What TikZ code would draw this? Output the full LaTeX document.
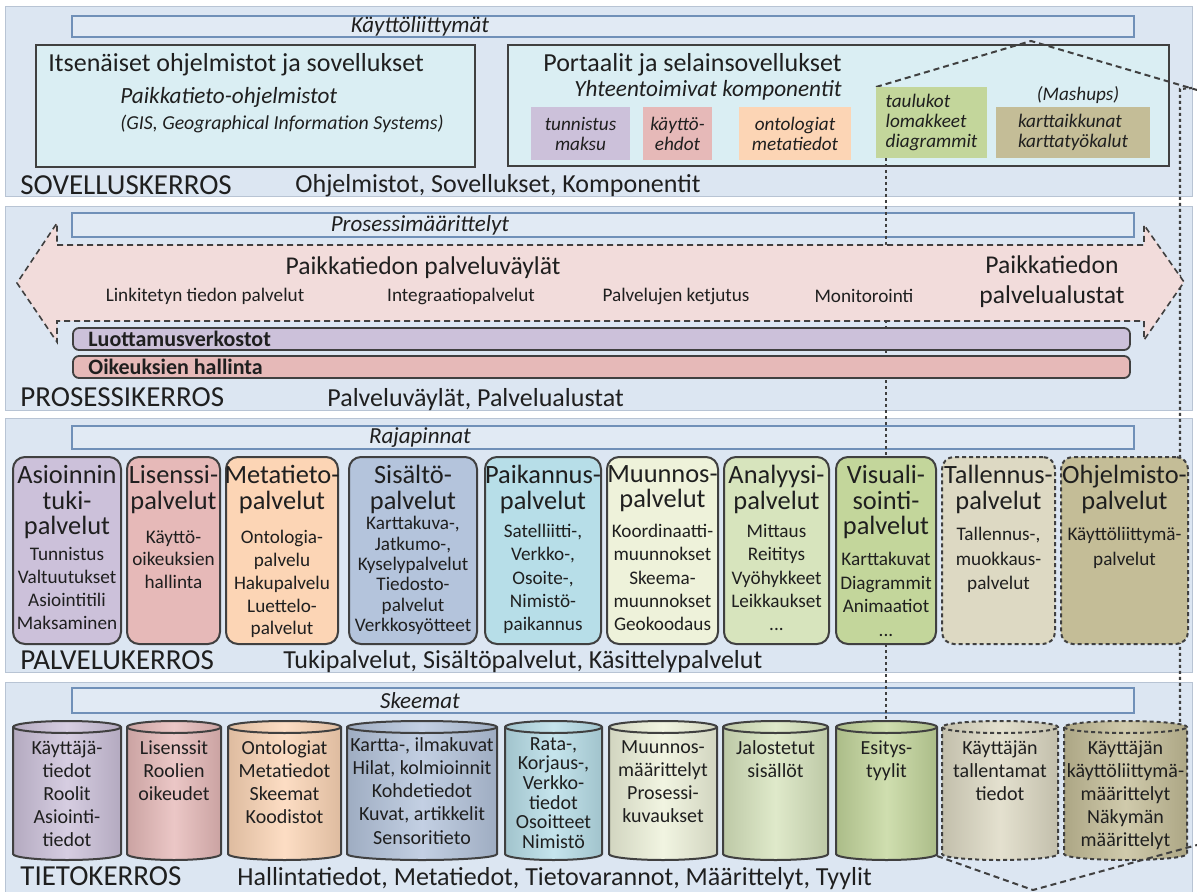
\documentclass[tikz,border=0pt]{standalone}
\usepackage{fontspec}
\setmainfont{Carlito}
\usetikzlibrary{positioning}

\definecolor{panelfill}{HTML}{DCE6F2}
\definecolor{panelline}{HTML}{B8C4D4}
\definecolor{barfill}{HTML}{E1EAF4}
\definecolor{barline}{HTML}{7090B8}
\definecolor{appfill}{HTML}{DAEEF3}
\definecolor{edge}{HTML}{404040}
\definecolor{ink}{HTML}{1F1F1F}
\definecolor{arrowfill}{HTML}{F2DCDB}
\definecolor{cPurple}{HTML}{CCC1DA}
\definecolor{cPink}{HTML}{E6B9B8}
\definecolor{cOrange}{HTML}{FCD5B5}
\definecolor{cSteel}{HTML}{B4C4DC}
\definecolor{cCyan}{HTML}{B7DEE8}
\definecolor{cCream}{HTML}{EEF2DA}
\definecolor{cLime}{HTML}{D7E4BD}
\definecolor{cGreen}{HTML}{C3D69B}
\definecolor{cBeige}{HTML}{DDD9C3}
\definecolor{cTan}{HTML}{C4BD97}

\tikzset{
    layerpanel/.style={draw=panelline, fill=panelfill, line width=0.5pt},
    topbar/.style={draw=barline, fill=barfill, line width=0.6pt},
    barlabel/.style={font=\fontsize{11.5}{12}\selectfont\itshape, text=ink, inner sep=0pt},
    layername/.style={anchor=west, font=\fontsize{14.5}{15}\selectfont, text=ink, inner sep=0pt},
    layerlist/.style={anchor=west, font=\fontsize{13}{14}\selectfont, text=ink, inner sep=0pt},
    % reunat: yhtenainen tai katkoviiva
    edgesolid/.style={solid},
    edgedash/.style={dash pattern=on 2pt off 1.5pt},
}

\begin{document}
\begin{tikzpicture}[x=0.5pt, y=-0.5pt,
    appbox/.style={draw=edge, fill=appfill, line width=0.9pt, inner sep=0pt},
    apptitle/.style={font=\fontsize{13}{14}\selectfont, text=ink, inner sep=0pt},
    appsub/.style={font=\fontsize{11.6}{12}\selectfont\itshape, text=ink, inner sep=0pt},
    appnote/.style={font=\fontsize{9.9}{10}\selectfont\itshape, text=ink, inner sep=0pt},
    compbox/.style={inner sep=0pt, align=center, font=\fontsize{9.6}{10}\selectfont\itshape, text=ink},
    busarrow/.style={draw=edge, fill=arrowfill, line width=0.8pt, dash pattern=on 3pt off 2pt},
    bustitle/.style={font=\fontsize{12.8}{15}\selectfont, text=ink, inner sep=0pt},
    busitem/.style={font=\fontsize{9.6}{10}\selectfont, text=ink, inner sep=0pt},
    rightsbar/.style={draw=edge, rounded corners=3pt, line width=0.9pt, inner sep=0pt},
    rightsname/.style={anchor=west, font=\fontsize{11}{12}\selectfont\bfseries, text=ink, inner sep=0pt},
    svcbox/.style={draw=edge, rounded corners=6pt, line width=1pt, inner sep=0pt},
    svctitle/.style={anchor=north, align=center, font=\fontsize{13.2}{12.75}\selectfont, text=ink, inner sep=0pt},
    svcitems/.style={anchor=north, align=center, text=ink, inner sep=0pt},
    cyl/.style={draw=edge, line width=1pt},
    cyltext/.style={anchor=north, align=center, text=ink, inner sep=0pt},
    hull/.style={draw=edge, line width=1pt, dash pattern=on 3pt off 2pt},
    hullv/.style={draw=edge, line width=1.1pt, dash pattern=on 1.5pt off 1.5pt},
  ]
  \useasboundingbox (0,0) rectangle (1197,892);

  % kerrosten taustat
  \path[layerpanel] (5,7) rectangle (1192,197);
  \path[layerpanel] (5,207) rectangle (1192,410);
  \path[layerpanel] (5,418) rectangle (1192,672);
  \path[layerpanel] (5,682) rectangle (1192,897);

  % kerrosten ylapalkit
  \foreach \ya/\yb/\lbl/\nm in {16/37/Käyttöliittymät/ui, 213/237/Prosessimäärittelyt/proc,
      426/449/Rajapinnat/api, 688/713/Skeemat/schema}{
    \draw[topbar] (72,\ya) rectangle (1134,\yb);
    \node[barlabel] (\nm) at (420,{(\ya+\yb)/2}) {\lbl};
  }

  % SOVELLUSKERROS
  \node[appbox, minimum width=219.5pt, minimum height=61pt] (standalone) at (255.5,106) {};
  \node[appbox, minimum width=330.5pt, minimum height=60.5pt] (portal) at (838.5,105.5) {};
  \node[apptitle, anchor=west] (standaloneT) at (48,65) {Itsenäiset ohjelmistot ja sovellukset};
  \node[appsub, anchor=west] (gisT) at (120,97) {Paikkatieto-ohjelmistot};
  \node[appnote, anchor=west] (gisN) at (120,124) {(GIS, Geographical Information Systems)};
  \node[apptitle, anchor=east] (portalT) at (842,65) {Portaalit ja selainsovellukset};
  \node[appsub, anchor=east] (compT) at (842,90) {Yhteentoimivat komponentit};

  % projektion katkoviivat
  \coordinate (peak) at (1031,41);
  \coordinate (rimR) at (1197,90);
  \coordinate (rimV) at (1180,89);
  \draw[hull] (876,87) -- (peak) -- (rimR);
  \draw[hullv] (1192,88) -- (rimV) -- (1180,724);
  \draw[hullv] (886,158) -- (886,721);

  \node[compbox, fill=cPurple, minimum width=49.5pt, minimum height=26.5pt] (authC) at (580.5,133.5) {tunnistus\\maksu};
  \node[compbox, fill=cPink, minimum width=34.5pt, minimum height=26.5pt] (termsC) at (677.5,133.5) {käyttö-\\ehdot};
  \node[compbox, fill=cOrange, minimum width=56pt, minimum height=26.5pt] (metaC) at (795,133.5) {ontologiat\\metatiedot};
  \node[compbox, fill=cGreen, align=left, minimum width=55.5pt, minimum height=35.5pt] (tblC) at (931.5,122.5) {taulukot\\lomakkeet\\diagrammit};
  \node[compbox, fill=cTan, align=left, minimum width=77pt, minimum height=25.5pt] (mapC) at (1073,132.5) {karttaikkunat\\karttatyökalut};
  \node[compbox] (mashT) at (1078,95) {(Mashups)};

  \node[layername] (appL) at (20,185) {SOVELLUSKERROS};
  \node[layerlist] (appList) at (295,186) {Ohjelmistot, Sovellukset, Komponentit};

  % PROSESSIKERROS
  \path[busarrow] (57,245) -- (1144,245) -- (1144,225) -- (1184,282) -- (1144,340) -- (1144,321)
    -- (57,321) -- (57,342) -- (17,283) -- (57,223) -- cycle;
  \node[bustitle] (busT) at (423,268) {Paikkatiedon palveluväylät};
  \node[bustitle, align=center] (platT) at (1052,282) {Paikkatiedon\\palvelualustat};
  \foreach \x/\lbl/\nm in {205/Linkitetyn tiedon palvelut/linked, 461/Integraatiopalvelut/integ,
      676/Palvelujen ketjutus/chain, 864/Monitorointi/monit}
    \node[busitem] (\nm) at (\x,296) {\lbl};

  \node[rightsbar, fill=cPurple, minimum width=528.5pt, minimum height=11pt] (trust) at (601.5,339) {};
  \node[rightsname] (trustT) at (88,339) {Luottamusverkostot};
  \node[rightsbar, fill=cPink, minimum width=528.5pt, minimum height=11pt] (rights) at (601.5,367) {};
  \node[rightsname] (rightsT) at (88,367) {Oikeuksien hallinta};

  \node[layername] (procL) at (20,397) {PROSESSIKERROS};
  \node[layerlist] (procList) at (327,400) {Palveluväylät, Palvelualustat};

  % PALVELUKERROS
  \foreach \n/\xa/\xb/\col/\sty/\ttl/\itm/\iy/\isk in {
      1/13/121/cPurple/edgesolid/{Asioinnin\\tuki-\\palvelut}/{Tunnistus\\Valtuutukset\\Asiointitili\\Maksaminen}/547/11.4,
      2/127/220/cPink/edgesolid/{Lisenssi-\\palvelut}/{Käyttö-\\oikeuksien\\hallinta}/530/11.4,
      3/226/338/cOrange/edgesolid/{Metatieto-\\palvelut}/{Ontologia-\\palvelu\\Hakupalvelu\\Luettelo-\\palvelut}/530/11.4,
      4/349/477/cSteel/edgesolid/{Sisältö-\\palvelut}/{Karttakuva-,\\Jatkumo-,\\Kyselypalvelut\\Tiedosto-\\palvelut\\Verkkosyötteet}/516/10.2,
      5/485/601/cCyan/edgesolid/{Paikannus-\\palvelut}/{Satelliitti-,\\Verkko-,\\Osoite-,\\Nimistö-\\paikannus}/524/11.6,
      6/607/718/cCream/edgesolid/{Muunnos-\\palvelut}/{Koordinaatti-\\muunnokset\\Skeema-\\muunnokset\\Geokoodaus}/524/11.6,
      7/724/829/cLime/edgesolid/{Analyysi-\\palvelut}/{Mittaus\\Reititys\\Vyöhykkeet\\Leikkaukset\\...}/524/11.6,
      8/836/936/cGreen/edgesolid/{Visuali-\\sointi-\\palvelut}/{Karttakuvat\\Diagrammit\\Animaatiot\\...}/552/11.8,
      9/942/1055/cBeige/edgedash/{Tallennus-\\palvelut}/{Tallennus-,\\muokkaus-\\palvelut}/527/12.3,
      10/1061/1188/cTan/edgedash/{Ohjelmisto-\\palvelut}/{Käyttöliittymä-\\palvelut}/527/12.3}{
    \node[svcbox, fill=\col, \sty, minimum width={(\xb-\xa)*0.5pt}, minimum height=93.5pt] (svc\n) at ({(\xa+\xb)/2},550.5) {};
    \node[svctitle] (svct\n) at ({(\xa+\xb)/2},465) {\ttl};
    \node[svcitems, font=\fontsize{9.6}{\isk}\selectfont] (svci\n) at ({(\xa+\xb)/2},\iy) {\itm};
  }

  \node[layername] (svcL) at (20,660) {PALVELUKERROS};
  \node[layerlist] (svcList) at (283,662) {Tukipalvelut, Sisältöpalvelut, Käsittelypalvelut};

  % TIETOKERROS
  \foreach \n/\xa/\xb/\col/\sty/\dbtext/\ty/\tsk in {
      1/13/121/cPurple/edgesolid/{Käyttäjä-\\tiedot\\Roolit\\Asiointi-\\tiedot}/740/11.5,
      2/127/221/cPink/edgesolid/{Lisenssit\\Roolien\\oikeudet}/740/11.5,
      3/228/341/cOrange/edgesolid/{Ontologiat\\Metatiedot\\Skeemat\\Koodistot}/740/11.5,
      4/347/497/cSteel/edgesolid/{Kartta-, ilmakuvat\\Hilat, kolmioinnit\\Kohdetiedot\\Kuvat, artikkelit\\Sensoritieto}/737/11.6,
      5/505/602/cCyan/edgesolid/{Rata-,\\Korjaus-,\\Verkko-\\tiedot\\Osoitteet\\Nimistö}/737/9.8,
      6/609/717/cCream/edgesolid/{Muunnos-\\määrittelyt\\Prosessi-\\kuvaukset}/740/11.5,
      7/723/828/cLime/edgesolid/{Jalostetut\\sisällöt}/740/11.5,
      8/836/937/cGreen/edgesolid/{Esitys-\\tyylit}/740/11.5,
      9/942/1058/cBeige/edgedash/{Käyttäjän\\tallentamat\\tiedot}/740/11.5,
      10/1064/1187/cTan/edgedash/{Käyttäjän\\käyttöliittymä-\\määrittelyt\\Näkymän\\määrittelyt}/740/11.5}{
    \pgfmathsetmacro\rx{(\xb-\xa)/4}
    \path[cyl, \sty, left color=\col!88!black, right color=\col!88!black, middle color=\col!80!white]
      (\xa,727) -- (\xa,854) arc[start angle=180, end angle=360, x radius=\rx pt, y radius=3pt]
      -- (\xb,727) arc[start angle=0, end angle=180, x radius=\rx pt, y radius=3pt] -- cycle;
    \draw[cyl, \sty] (\xa,727) arc[start angle=180, end angle=360, x radius=\rx pt, y radius=3pt];
    \coordinate (cylb\n) at (\xb,856);
    \node[cyltext, font=\fontsize{10}{\tsk}\selectfont] (db\n) at ({(\xa+\xb)/2},\ty) {\dbtext};
  }

  \coordinate (vee) at (1033,890);
  \draw[hull] (cylb8) -- (vee) -- (1197,845);

  \node[layername] (dataL) at (20,876) {TIETOKERROS};
  \node[layerlist] (dataList) at (237,879) {Hallintatiedot, Metatiedot, Tietovarannot, Määrittelyt, Tyylit};
\end{tikzpicture}
\end{document}
